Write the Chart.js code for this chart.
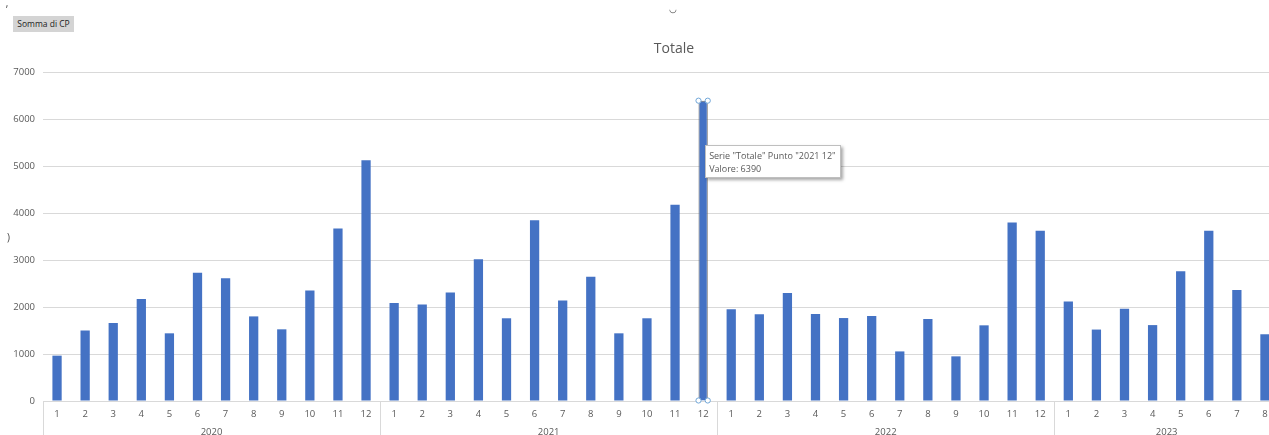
<!DOCTYPE html>
<html>
<head>
<meta charset="utf-8">
<script src="https://cdn.jsdelivr.net/npm/chart.js@4.4.1/dist/chart.umd.min.js"></script>
<style>
    body { margin: 0; background: #fff; overflow: hidden; width: 1269px; height: 435px; position: relative; font-family: "Open Sans", sans-serif; }
    #wrap { position: absolute; left: 0; top: 0; width: 1348px; height: 435px; }
    #pivotBtn { position: absolute; left: 13px; top: 16px; width: 61px; height: 16px; background: #d4d4d4; color: #222; font-size: 8.5px; line-height: 16px; text-align: center; }
    #tip { position: absolute; background: #fff; border: 1px solid #bfbfbf; box-shadow: 2px 2px 3px rgba(0,0,0,0.35); color: #595959; font-size: 9px; line-height: 13px; padding: 3px 4px 2px 3px; white-space: nowrap; }
    .mark { position: absolute; color: #444; font-size: 10px; }
</style>
</head>
<body>
<div id="wrap"><canvas id="totaleChart"></canvas></div>
<div id="pivotBtn">Somma di CP</div>
<div class="mark" style="left:6px; top:2px;">ʼ</div>
<div class="mark" style="left:7px; top:230px;">)</div>
<div class="mark" style="left:669px; top:2px; font-size:9px;">◡</div>
<div id="tip">Serie "Totale" Punto "2021 12"<br>Valore: 6390</div>
<script>
const years = ['2020', '2021', '2022', '2023'];
const monthsPerYear = [12, 12, 12, 8];
const totale2020 = [965, 1500, 1660, 2170, 1440, 2730, 2610, 1800, 1525, 2350, 3670, 5120];
const totale2021 = [2085, 2055, 2310, 3015, 1760, 3845, 2140, 2645, 1440, 1760, 4175, 6390];
const totale2022 = [1950, 1845, 2300, 1850, 1765, 1810, 1055, 1745, 950, 1610, 3800, 3625];
const totale2023 = [2115, 1520, 1965, 1615, 2760, 3625, 2360, 1420];
const yTicks = [0, 1000, 2000, 3000, 4000, 5000, 6000, 7000];
const selectedIndex = 23; // 2021 12
const chartTitle = 'Totale';

const monthLabels = [];
monthsPerYear.forEach(n => {
    for (let m = 1; m <= n; m++) monthLabels.push(String(m));
});
const values = [].concat(totale2020, totale2021, totale2022, totale2023);

const excelDecor = {
    id: 'excelDecor',
    afterDraw(chart) {
        const ctx = chart.ctx;
        const x = chart.scales.x;
        const area = chart.chartArea;
        const half = (x.getPixelForValue(1) - x.getPixelForValue(0)) / 2;
        ctx.save();

        // titolo centrato sull'oggetto grafico (più largo della finestra)
        ctx.fillStyle = '#595959';
        ctx.font = '14px "Open Sans", sans-serif';
        ctx.textAlign = 'center';
        ctx.textBaseline = 'middle';
        ctx.fillText(chartTitle, chart.width / 2, 49);

        ctx.strokeStyle = '#d9d9d9';
        ctx.lineWidth = 1;
        ctx.font = '9.5px "Open Sans", sans-serif';
        let start = 0;
        years.forEach((year, i) => {
            const left = x.getPixelForValue(start) - half;
            const right = x.getPixelForValue(start + monthsPerYear[i] - 1) + half;
            const lx = Math.round(left) + 0.5;
            ctx.beginPath();
            ctx.moveTo(lx, area.bottom);
            ctx.lineTo(lx, chart.height);
            ctx.stroke();
            ctx.fillText(year, (left + right) / 2, area.bottom + 31);
            start += monthsPerYear[i];
        });

        // maniglie di selezione sulla barra attiva
        const bar = chart.getDatasetMeta(0).data[selectedIndex];
        const w = bar.width / 2;
        ctx.strokeStyle = '#70a6d8';
        ctx.fillStyle = '#fff';
        [[bar.x - w, bar.y], [bar.x + w, bar.y], [bar.x - w, bar.base], [bar.x + w, bar.base]].forEach(p => {
            ctx.beginPath();
            ctx.arc(p[0], p[1], 2.6, 0, Math.PI * 2);
            ctx.fill();
            ctx.stroke();
        });
        ctx.restore();

        const tip = document.getElementById('tip');
        tip.style.left = (bar.x + 2) + 'px';
        tip.style.top = (bar.y + 44) + 'px';
    }
};

const ctx = document.getElementById('totaleChart').getContext('2d');
const chart = new Chart(ctx, {
    type: 'bar',
    data: {
        labels: monthLabels,
        datasets: [{
            label: 'Totale',
            data: values,
            backgroundColor: '#4472c4',
            borderColor: values.map((v, i) => i === selectedIndex ? '#6b6b6b' : '#4472c4'),
            borderWidth: values.map((v, i) => i === selectedIndex ? 1 : 0),
            barPercentage: 0.33,
            categoryPercentage: 1
        }]
    },
    options: {
        responsive: true,
        maintainAspectRatio: false,
        animation: false,
        layout: {
            padding: { left: 0, right: 69, top: 72, bottom: 0 }
        },
        plugins: {
            legend: { display: false },
            tooltip: { enabled: false },
            title: { display: false }
        },
        scales: {
            x: {
                grid: { display: false },
                border: { color: '#d9d9d9' },
                ticks: {
                    color: '#595959',
                    font: { family: '"Open Sans", sans-serif', size: 9.5 },
                    padding: 0,
                    maxRotation: 0,
                    autoSkip: false
                },
                afterFit(scale) { scale.height = 34; }
            },
            y: {
                min: 0,
                max: 7000,
                afterBuildTicks(scale) { scale.ticks = yTicks.map(v => ({ value: v })); },
                grid: { color: '#d9d9d9', drawTicks: false },
                border: { display: false },
                ticks: {
                    color: '#595959',
                    font: { family: '"Open Sans", sans-serif', size: 9.5 },
                    padding: 8,
                    callback: v => String(v)
                },
                afterFit(scale) { scale.width = 43; }
            }
        }
    },
    plugins: [excelDecor]
});
</script>
</body>
</html>
